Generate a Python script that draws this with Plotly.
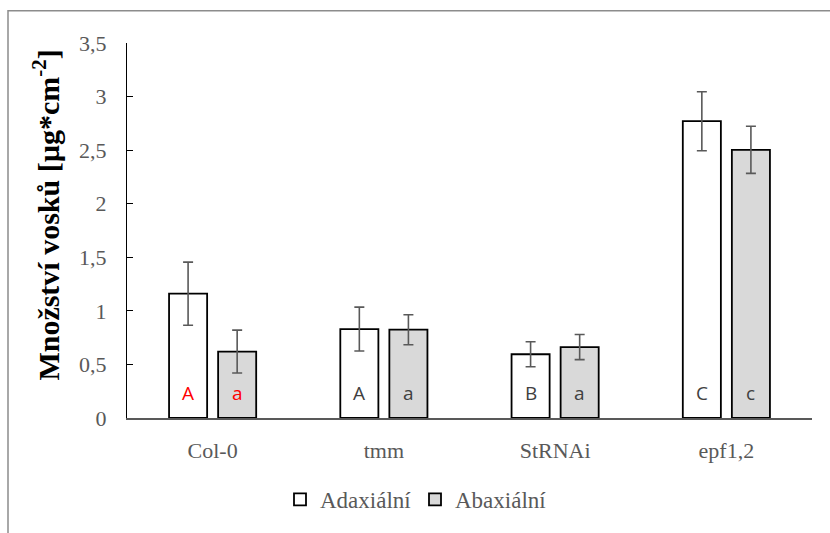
import plotly.graph_objects as go

categories = ["Col-0", "tmm", "StRNAi", "epf1,2"]
adax_values = [1.16, 0.83, 0.595, 2.77]
adax_errors = [0.295, 0.205, 0.117, 0.275]
abax_values = [0.62, 0.824, 0.662, 2.503]
abax_errors = [0.2, 0.14, 0.117, 0.22]
adax_letters = ["A", "A", "B", "C"]
abax_letters = ["a", "a", "a", "c"]
letter_colors = ["#ff0000", "#404040", "#404040", "#404040"]
series_names = ["Adaxiální", "Abaxiální"]
y_title = "<b>Množství vosků [µg*cm<sup>-2</sup>]</b>"

W, H = 830, 533
L, R, T, B = 127, 18, 43, 112
pw, ph = W - L - R, H - T - B

fig = go.Figure()
fig.add_trace(go.Bar(
    x=categories, y=adax_values, name=series_names[0],
    marker=dict(color="#ffffff", line=dict(color="#000000", width=1.8)),
    error_y=dict(type="data", array=adax_errors, color="#595959", thickness=1.6, width=5),
))
fig.add_trace(go.Bar(
    x=categories, y=abax_values, name=series_names[1],
    marker=dict(color="#d9d9d9", line=dict(color="#000000", width=1.8)),
    error_y=dict(type="data", array=abax_errors, color="#595959", thickness=1.6, width=5),
))

annotations = []
for i, c in enumerate(categories):
    for letters, shift in ((adax_letters, -24.5), (abax_letters, 24.5)):
        annotations.append(dict(
            x=c, y=0.234, xref="x", yref="y", text=letters[i], showarrow=False,
            xshift=shift, font=dict(family="Open Sans", size=19, color=letter_colors[i]),
        ))
annotations.append(dict(
    x=(46 - L) / pw, y=(421 - 217) / ph, xref="paper", yref="paper",
    text=y_title, showarrow=False, textangle=-90,
    font=dict(family="Liberation Serif", size=30, color="#000000"),
    xanchor="center", yanchor="middle",
))

fig.update_layout(
    width=W, height=H,
    margin=dict(l=L, r=R, t=T, b=B),
    paper_bgcolor="#ffffff", plot_bgcolor="#ffffff",
    barmode="group", bargap=0.427, bargroupgap=0.224,
    separators=", ",
    font=dict(family="Liberation Serif", size=22, color="#595959"),
    showlegend=True,
    legend=dict(orientation="h", x=(320 - 40 - L) / pw, xanchor="left",
                y=(421 - 503) / ph, yanchor="middle",
                font=dict(family="Liberation Serif", size=23, color="#595959"),
                entrywidth=90, entrywidthmode="pixels",
                tracegroupgap=0, bgcolor="rgba(0,0,0,0)"),
    annotations=annotations,
    shapes=[dict(type="rect", xref="paper", yref="paper",
                 x0=(8 - L) / pw, x1=(840 - L) / pw,
                 y0=(421 - 545) / ph, y1=(421 - 10.5) / ph,
                 line=dict(color="#8c8c8c", width=1.5), fillcolor="rgba(0,0,0,0)", layer="below")],
    xaxis=dict(showline=True, linecolor="#595959", linewidth=1.5, ticks="", showgrid=False,
               zeroline=False, ticklabelstandoff=12,
               tickfont=dict(family="Liberation Serif", size=22, color="#595959")),
    yaxis=dict(range=[0, 3.5], dtick=0.5, showline=True, linecolor="#000000", linewidth=1.3,
               ticks="inside", ticklen=6, tickcolor="#000000", tickwidth=1.3,
               showgrid=False, zeroline=False, ticklabelstandoff=15,
               tickfont=dict(family="Liberation Serif", size=22, color="#595959")),
)

fig.write_html("out.html")
